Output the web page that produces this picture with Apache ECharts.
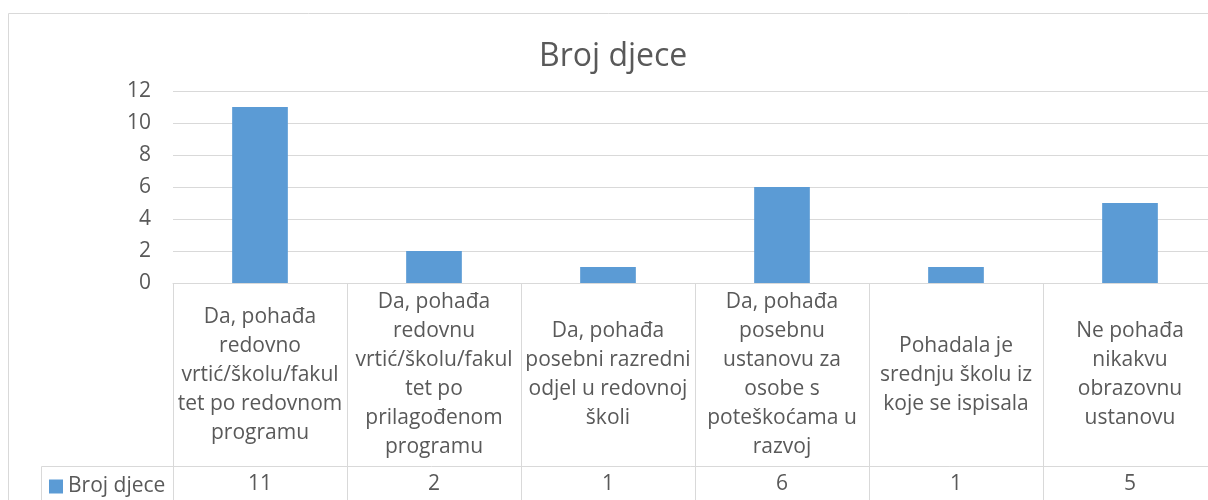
<!DOCTYPE html>
<html>
<head>
<meta charset="utf-8">
<script src="https://cdn.jsdelivr.net/npm/echarts@6/dist/echarts.min.js"></script>
<style>
  html, body { margin: 0; padding: 0; background: #fff; }
  #chart { width: 1208px; height: 500px; }
</style>
</head>
<body>
<div id="chart"></div>
<script>
// kategorije (tekst kao u tablici ispod grafa)
const categories = [
  'Da, pohađa\nredovno\nvrtić/školu/fakul\ntet po redovnom\nprogramu',
  'Da, pohađa\nredovnu\nvrtić/školu/fakul\ntet po\nprilagođenom\nprogramu',
  'Da, pohađa\nposebni razredni\nodjel u redovnoj\nškoli',
  'Da, pohađa\nposebnu\nustanovu za\nosobe s\npoteškoćama u\nrazvoj',
  'Pohadala je\nsrednju školu iz\nkoje se ispisala',
  'Ne pohađa\nnikakvu\nobrazovnu\nustanovu'
]
const brojDjece = [11, 2, 1, 6, 1, 5]
const yTicks = [0, 2, 4, 6, 8, 10, 12]

const grey = '#595959'
const lineGrey = '#d9d9d9'
const font = '"Open Sans", "Noto Sans", sans-serif'

const chart = echarts.init(document.getElementById('chart'))

chart.setOption({
  animation: false,
  textStyle: { fontFamily: font },
  title: {
    text: 'Broj djece',
    left: 539,
    top: 41,
    padding: 0,
    textStyle: { fontSize: 32, fontWeight: 'normal', color: grey, fontFamily: font }
  },
  legend: {
    left: 44,
    top: 471,
    icon: 'rect',
    itemWidth: 14,
    itemHeight: 14,
    textStyle: { fontSize: 21, color: grey, fontFamily: font },
    data: ['Broj djece']
  },
  // desni rub grafa je izvan slike (odrezan)
  grid: { left: 173, width: 1044, top: 91, height: 192, outerBoundsMode: 'none' },
  xAxis: [
    {
      type: 'category',
      data: categories,
      axisLine: { lineStyle: { color: lineGrey, width: 1 } },
      axisTick: { show: true, length: 217, lineStyle: { color: lineGrey, width: 1 } },
      axisLabel: {
        interval: 0,
        margin: 92,
        verticalAlign: 'middle',
        fontSize: 21,
        lineHeight: 29,
        color: grey,
        fontFamily: font
      }
    },
    {
      type: 'category',
      data: categories,
      position: 'bottom',
      offset: 183,
      axisLine: { show: true, lineStyle: { color: lineGrey, width: 1 } },
      axisTick: { show: false },
      axisLabel: {
        interval: 0,
        margin: 18,
        verticalAlign: 'middle',
        fontSize: 21,
        color: grey,
        fontFamily: font,
        formatter: (v, i) => String(brojDjece[i])
      }
    }
  ],
  yAxis: {
    type: 'value',
    min: yTicks[0],
    max: yTicks[yTicks.length - 1],
    interval: 2,
    axisLine: { show: false },
    axisTick: { show: false },
    splitLine: { lineStyle: { color: lineGrey, width: 1 } },
    axisLabel: { fontSize: 21, color: grey, margin: 22, fontFamily: font }
  },
  series: [
    {
      name: 'Broj djece',
      type: 'bar',
      data: brojDjece,
      barWidth: '32%',
      itemStyle: { color: '#5b9bd5' }
    }
  ],
  graphic: [
    // okvir grafa
    {
      type: 'rect',
      shape: { x: 8.5, y: 13.5, width: 1400, height: 600 },
      style: { fill: 'none', stroke: lineGrey, lineWidth: 1 },
      silent: true
    },
    // ćelija legende u tablici
    {
      type: 'polyline',
      shape: { points: [[41.5, 500], [41.5, 466.5], [173, 466.5]] },
      style: { fill: 'none', stroke: lineGrey, lineWidth: 1 },
      silent: true
    }
  ]
})
</script>
</body>
</html>
